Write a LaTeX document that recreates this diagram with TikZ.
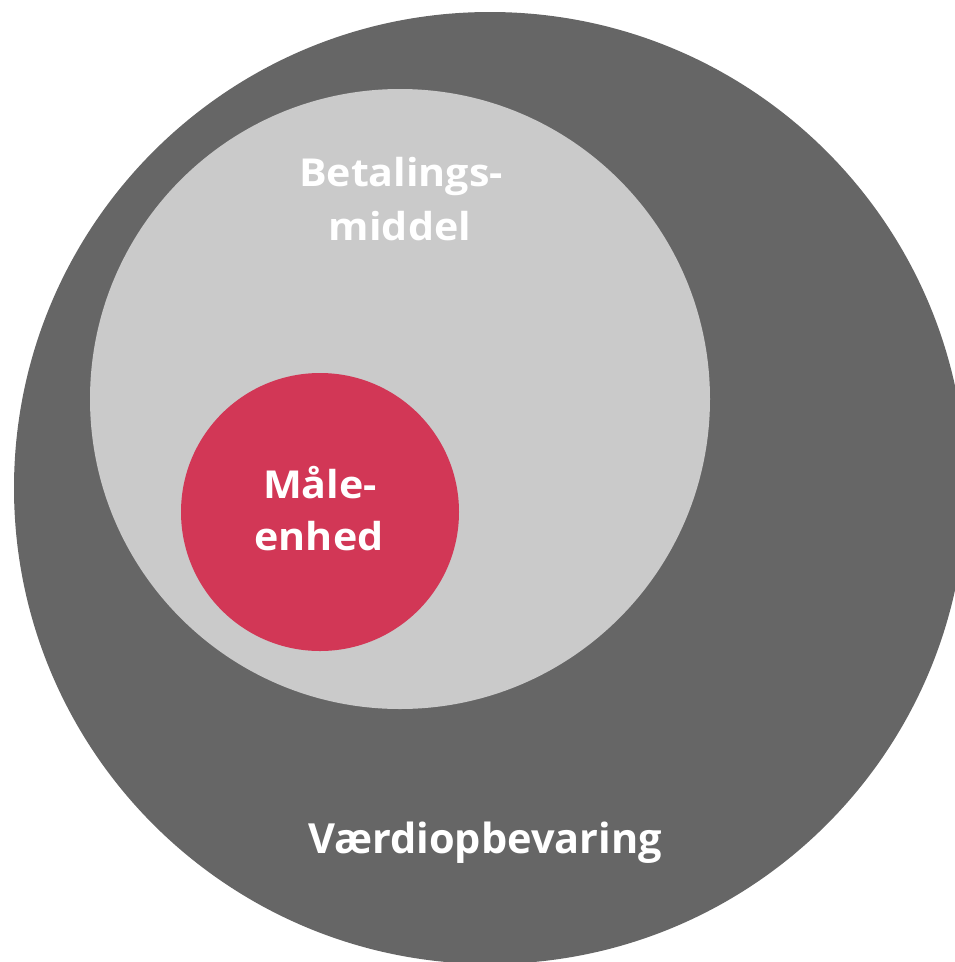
\documentclass[tikz,border=0pt]{standalone}
\usepackage{fontspec}
\setmainfont{Open Sans}
\newfontfamily\widefont[FakeStretch=1.07]{Open Sans}
\definecolor{outergray}{HTML}{666666}
\definecolor{innergray}{HTML}{CACACA}
\definecolor{redc}{HTML}{D23756}
\begin{document}
\begin{tikzpicture}[x=1pt,y=-1pt,
  lbl/.style={text=white,font=\widefont\bfseries\fontsize{38.5}{44}\selectfont,anchor=base,inner sep=0pt},
  biglbl/.style={text=white,font=\bfseries\fontsize{41.5}{48}\selectfont,anchor=base,inner sep=0pt}]
\useasboundingbox (0,0) rectangle (955,962);
\begin{scope}
\clip (0,0) rectangle (955,962);
\fill[outergray] (490,488) circle (476);
\end{scope}
\fill[innergray] (400,399) circle (310);
\fill[redc] (320,512) circle (139);
\node[lbl] (bet1) at (401,186.5) {Betalings-};
\node[lbl] (bet2) at (400,240) {middel};
\node[lbl] (maa1) at (320,498) {Måle-};
\node[lbl] (maa2) at (319,550) {enhed};
\node[biglbl] (vaerd) at (485,853) {Værdiopbevaring};
\end{tikzpicture}
\end{document}
